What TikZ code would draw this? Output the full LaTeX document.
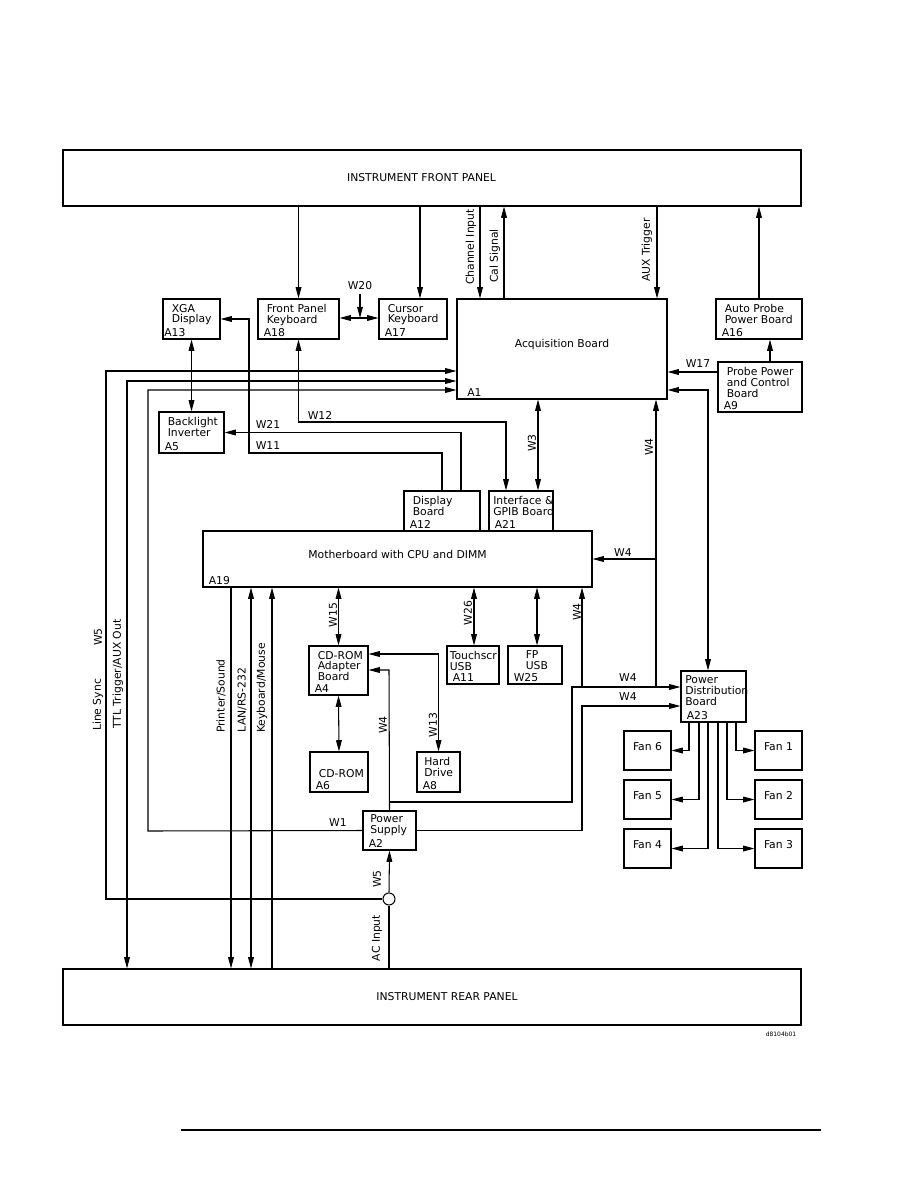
\documentclass[tikz,border=0pt]{standalone}
\usepackage{fontspec}
\setmainfont{DejaVu Sans}
\usepackage{tikz}
\usetikzlibrary{arrows.meta,fit}
\newcommand{\cadfont}{\fontsize{7.2}{7.3}\selectfont}
\tikzset{
  ln/.style={line width=0.7pt},
  ar/.style={ln,-{Triangle[length=7.5pt,width=3.8pt]}},
  dar/.style={ln,{Triangle[length=7.5pt,width=3.8pt]}-{Triangle[length=7.5pt,width=3.8pt]}},
  box/.style={draw,line width=0.7pt,inner sep=0pt},
  nm/.style={anchor=north west,align=left,inner sep=0pt,xshift=6pt,yshift=-3.5pt},
  tg/.style={anchor=south west,inner sep=0pt,xshift=4pt,yshift=1.5pt},
  wl/.style={inner sep=0pt},
  vl/.style={inner sep=0pt,rotate=90}
}
\begin{document}
\begin{tikzpicture}[x=0.6667pt,y=-0.6667pt,every node/.style={font=\cadfont}]
\useasboundingbox (0,0) rectangle (918,1188);
% panels
\node[box,fit={(63,150) (801,206)},label={[inner sep=0pt,xshift=-7pt]center:INSTRUMENT FRONT PANEL}] (fp) {};
\node[box,fit={(63,969) (801,1025)},label={[inner sep=0pt,xshift=10pt]center:INSTRUMENT REAR PANEL}] (rp) {};
\node[inner sep=0pt,font=\fontsize{4}{4}\selectfont] (dwg) at (781,1034) {d8104b01};
% boards
\node[box,fit={(163,299) (220,339)},label={[nm]north west:XGA\\Display},label={[tg,xshift=-3pt]south west:A13}] (xga) {};
\node[box,fit={(258,299) (339,339)},label={[nm]north west:Front Panel\\Keyboard},label={[tg]south west:A18}] (fpk) {};
\node[box,fit={(379,299) (447,339)},label={[nm]north west:Cursor\\Keyboard},label={[tg]south west:A17}] (ckb) {};
\node[box,fit={(457,299) (667,399)},label={[tg,xshift=3pt]south west:A1}] (acq) {Acquisition Board};
\node[box,fit={(716,299) (802,339)},label={[nm]north west:Auto Probe\\Power Board},label={[tg]south west:A16}] (apb) {};
\node[box,fit={(718,362) (802,412)},label={[nm]north west:Probe Power\\and Control\\Board},label={[tg]south west:A9}] (ppc) {};
\node[box,fit={(159,412) (224,453)},label={[nm]north west:Backlight\\Inverter},label={[tg]south west:A5}] (bli) {};
\node[box,fit={(404,491) (480,531)},label={[nm]north west:Display\\Board},label={[tg]south west:A12}] (dsp) {};
\node[box,fit={(489,491) (553,531)},label={[nm,xshift=-3pt]north west:Interface \&\\GPIB Board},label={[tg]south west:A21}] (ifc) {};
\node[box,fit={(203,531) (592,587)},label={[tg]south west:A19}] (mb) {Motherboard with CPU and DIMM};
\node[box,fit={(447,646) (499,684)},label={[nm,xshift=-4pt]north west:Touchscr\\USB},label={[tg]south west:A11}] (tsc) {};
\node[box,fit={(508,646) (562,684)},label={[nm,xshift=6pt]north west:FP\\USB},label={[tg]south west:W25}] (fpu) {};
\node[box,fit={(309,646) (368,695)},label={[nm]north west:CD-ROM\\Adapter\\Board},label={[tg]south west:A4}] (cda) {};
\node[box,fit={(310,752) (368,792)},label={[nm,yshift=-8pt]north west:CD-ROM},label={[tg]south west:A6}] (cdr) {};
\node[box,fit={(417,752) (460,792)},label={[nm,xshift=-1pt]north west:Hard\\Drive},label={[tg]south west:A8}] (hdd) {};
\node[box,fit={(363,811) (416,850)},label={[nm,xshift=-1pt,yshift=1pt]north west:Power\\Supply},label={[tg]south west:A2}] (psu) {};
\node[box,fit={(681,671) (746,722)},label={[nm,xshift=-3pt]north west:Power\\Distribution\\Board},label={[tg]south west:A23}] (pdb) {};
\node[box,fit={(755,731) (802,770)}] (fan1) {Fan 1};
\node[box,fit={(755,780) (802,819)}] (fan2) {Fan 2};
\node[box,fit={(755,829) (802,868)}] (fan3) {Fan 3};
\node[box,fit={(624,829) (671,868)}] (fan4) {Fan 4};
\node[box,fit={(624,780) (671,819)}] (fan5) {Fan 5};
\node[box,fit={(624,731) (671,770)}] (fan6) {Fan 6};
\node[draw,circle,ln,minimum size=8pt,inner sep=0pt] (junc) at (389,899) {};
\coordinate (w20) at (360,294);
% front panel links
\draw[ar] (fpk.north |- fp.south) -- (fpk.north);
\draw[ar] (fp.south -| 420,0) -- (ckb.north -| 420,0);
\draw[ar] (fp.south -| 480,0) -- (acq.north -| 480,0);
\draw[ar] (acq.north -| 504,0) -- (fp.south -| 504,0);
\draw[ar] (fp.south -| 657,0) -- (acq.north -| 657,0);
\draw[ar] (apb.north) -- (apb.north |- fp.south);
\draw[ar] (ppc.north -| 770,0) -- (apb.south -| 770,0);
\node[vl] (chin) at (471,247) {Channel Input};
\node[vl] (cals) at (495,256) {Cal Signal};
\node[vl] (auxt) at (647,250) {AUX Trigger};
% keyboards and display
\draw[dar] (fpk.east |- 0,318) -- (ckb.west |- 0,318);
\draw[ar] (w20) -- (360,318);
\node[wl] (lw20) at (360,286) {W20};
\draw[dar] (xga.south) -- (bli.north);
\draw[ar] (dsp.north -| 442,0) |- (249,453) |- (xga.east);
\draw[ar] (dsp.north -| 461,0) |- (bli.east);
\draw[dar] (fpk.south) |- (506,422) -- (ifc.north -| 506,0);
\node[wl] (lw21) at (268,424) {W21};
\node[wl] (lw11) at (268,446) {W11};
\node[wl] (lw12) at (320,415) {W12};
% acquisition board links
\draw[ar] (ppc.west |- 0,372) -- (acq.east |- 0,372);
\node[wl] (lw17) at (698,364) {W17};
\draw[dar] (acq.east |- 0,390) -| (pdb.north -| 708,0);
\draw[dar] (acq.south -| 538,0) -- (ifc.north -| 538,0);
\node[vl] (lw3) at (532,443) {W3};
\draw[ar] (656,687) -- (acq.south -| 656,0);
\draw[ar] (656,559) -- (mb.east |- 0,559);
\node[vl] (lw4a) at (649,447) {W4};
\node[wl] (lw4b) at (623,553) {W4};
% left side lines
\draw[ar] (junc.west) -- (106,899) -- (106,371) -- (acq.west |- 0,371);
\draw[dar] (acq.west |- 0,381) -- (127,381) -- (rp.north -| 127,0);
\draw[ar] (psu.west) -- (148,831) -- (148,390) -- (acq.west |- 0,390);
\node[vl] (lsync) at (98,705) {Line Sync};
\node[vl] (lw5a) at (98,637) {W5};
\node[vl] (lttl) at (118,674) {TTL Trigger/AUX Out};
\node[wl] (lw1) at (338,823) {W1};
% motherboard to rear panel
\draw[ar] (mb.south -| 231,0) -- (rp.north -| 231,0);
\draw[dar] (mb.south -| 251,0) -- (rp.north -| 251,0);
\draw[ar] (rp.north -| 272,0) -- (mb.south -| 272,0);
\node[vl] (lprn) at (221,696) {Printer/Sound};
\node[vl] (llan) at (242,700) {LAN/RS-232};
\node[vl] (lkbd) at (262,688) {Keyboard/Mouse};
% motherboard peripherals
\draw[dar] (mb.south -| cda.north) -- (cda.north);
\draw[dar] (cda.south) -- (cdr.north);
\draw[dar] (mb.south -| 474,0) -- (tsc.north -| 474,0);
\draw[dar] (mb.south -| 537,0) -- (fpu.north -| 537,0);
\draw[dar] (hdd.north) |- (cda.east |- 0,654);
\draw[ar] (psu.north) -- (389,670) -- (cda.east |- 0,670);
\node[vl] (lw15) at (333,615) {W15};
\node[vl] (lw26) at (468,613) {W26};
\node[vl] (lw13) at (433,725) {W13};
\node[vl] (lw4c) at (383,725) {W4};
% power wiring
\draw[ar] (389,802) -| (572,687) -- (pdb.west |- 0,687);
\draw[ar] (psu.east) -| (582,706) -- (pdb.west |- 0,706);
\draw[ar] (582,687) -- (mb.south -| 582,0);
\node[wl] (lw4d) at (628,678) {W4};
\node[wl] (lw4e) at (628,697) {W4};
\node[vl] (lw4f) at (577,612) {W4};
\draw[ln] (rp.north -| junc) -- (junc.south);
\draw[ar] (junc.north) -- (psu.south);
\node[vl] (lw5b) at (377,879) {W5};
\node[vl] (lac) at (377,938) {AC Input};
% fans
\draw[ar] (pdb.south -| 689,0) |- (fan6.east);
\draw[ar] (pdb.south -| 699,0) |- (fan5.east);
\draw[ar] (pdb.south -| 708,0) |- (fan4.east);
\draw[ar] (pdb.south -| 718,0) |- (fan3.west);
\draw[ar] (pdb.south -| 727,0) |- (fan2.west);
\draw[ar] (pdb.south -| 736,0) |- (fan1.west);
% page rule
\draw[line width=0.9pt] (181,1130) -- (821,1130);
\end{tikzpicture}
\end{document}
